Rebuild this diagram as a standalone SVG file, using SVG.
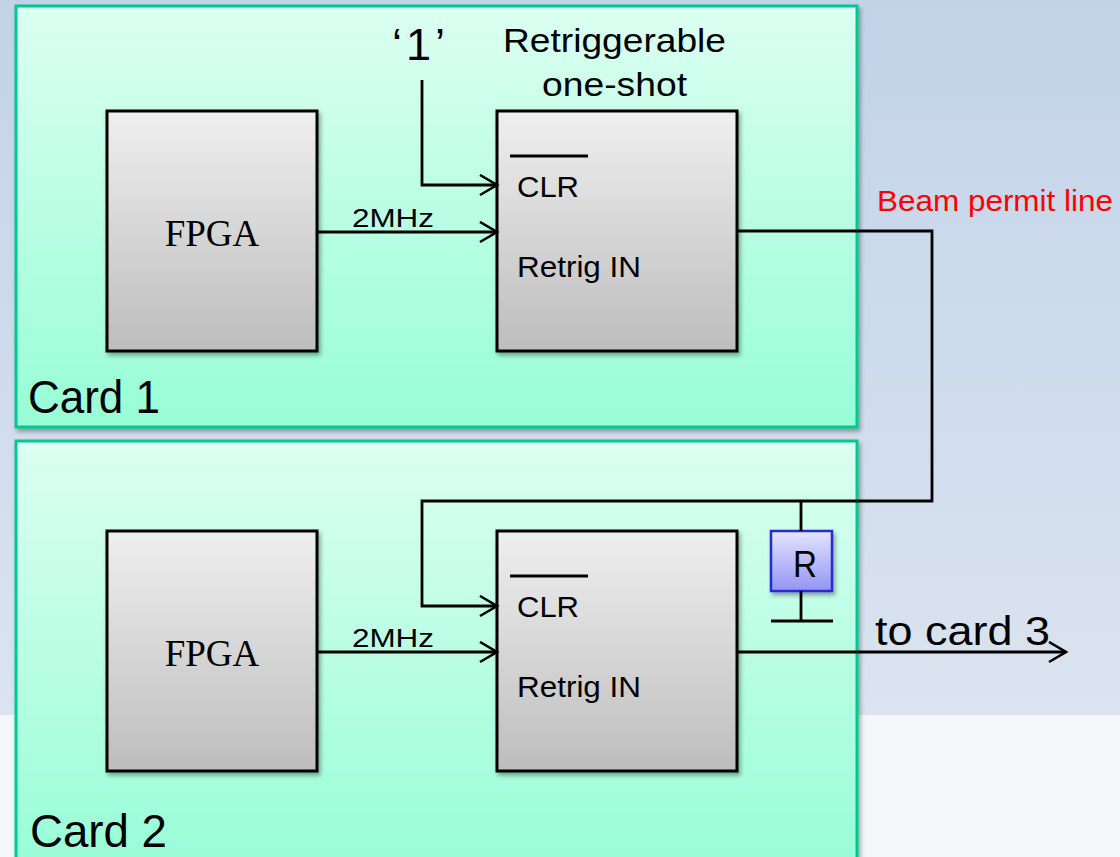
<svg xmlns="http://www.w3.org/2000/svg" width="1120" height="857" viewBox="0 0 1120 857">
<defs>
<linearGradient id="bg" x1="0" y1="0" x2="0" y2="1">
<stop offset="0" stop-color="#c2d3e8"/>
<stop offset="1" stop-color="#dbe4f0"/>
</linearGradient>
<linearGradient id="card" x1="0" y1="0" x2="0" y2="1">
<stop offset="0" stop-color="#dcfff1"/>
<stop offset="1" stop-color="#97fdd7"/>
</linearGradient>
<linearGradient id="box" x1="0" y1="0" x2="0" y2="1">
<stop offset="0" stop-color="#efefef"/>
<stop offset="1" stop-color="#bdbdbd"/>
</linearGradient>
<linearGradient id="rbox" x1="0" y1="0" x2="0" y2="1">
<stop offset="0" stop-color="#e4e4ff"/>
<stop offset="1" stop-color="#9494f4"/>
</linearGradient>
<filter id="sh" x="-10%" y="-10%" width="130%" height="130%">
<feDropShadow dx="2" dy="3" stdDeviation="2" flood-color="#000" flood-opacity="0.35"/>
</filter>
<marker id="arr" markerWidth="22" markerHeight="24" refX="18" refY="11" orient="auto" markerUnits="userSpaceOnUse">
<path d="M1,1 L18,11 L1,21" fill="none" stroke="#000" stroke-width="2.6"/>
</marker>
</defs>
<style>
.card{fill:url(#card);stroke:#00c88e;stroke-width:3;filter:url(#sh)}
.box{fill:url(#box);stroke:#000;stroke-width:3;filter:url(#sh)}
.w{fill:none;stroke:#000;stroke-width:2.8}
.t{font-family:"Liberation Sans",Arial,sans-serif;fill:#000}
.s{font-family:"Liberation Serif","Times New Roman",serif;fill:#000}
</style>
<rect x="0" y="0" width="1120" height="715" fill="url(#bg)"/>
<rect x="0" y="715" width="1120" height="142" fill="#f4f6f9"/>
<g id="card1">
<rect class="card" x="16" y="6" width="841" height="421"/>
<text class="t" x="28" y="413" font-size="46" textLength="132" lengthAdjust="spacingAndGlyphs">Card 1</text>
</g>
<g id="card2">
<rect class="card" x="16" y="441" width="841" height="430"/>
<text class="t" x="30" y="847" font-size="46" textLength="137" lengthAdjust="spacingAndGlyphs">Card 2</text>
</g>
<g id="fpga1">
<rect class="box" x="107" y="111" width="210" height="240"/>
<text class="s" x="212" y="246" font-size="37" text-anchor="middle">FPGA</text>
</g>
<g id="oneshot1">
<rect class="box" x="497" y="111" width="240" height="240"/>
<line x1="510" y1="156" x2="588" y2="156" stroke="#000" stroke-width="2.8"/>
<text class="t" x="517" y="197" font-size="30" textLength="62" lengthAdjust="spacingAndGlyphs">CLR</text>
<text class="t" x="517" y="277" font-size="30" textLength="124" lengthAdjust="spacingAndGlyphs">Retrig IN</text>
</g>
<g id="fpga2">
<rect class="box" x="107" y="531" width="210" height="240"/>
<text class="s" x="212" y="666" font-size="37" text-anchor="middle">FPGA</text>
</g>
<g id="oneshot2">
<rect class="box" x="497" y="531" width="240" height="240"/>
<line x1="510" y1="576" x2="588" y2="576" stroke="#000" stroke-width="2.8"/>
<text class="t" x="517" y="617" font-size="30" textLength="62" lengthAdjust="spacingAndGlyphs">CLR</text>
<text class="t" x="517" y="697" font-size="30" textLength="124" lengthAdjust="spacingAndGlyphs">Retrig IN</text>
</g>
<g id="resistor">
<rect x="771" y="531" width="61" height="60" fill="url(#rbox)" stroke="#2b2bd0" stroke-width="2.5" filter="url(#sh)"/>
<text class="t" x="805" y="577" font-size="36" text-anchor="middle" textLength="24" lengthAdjust="spacingAndGlyphs">R</text>
</g>
<g id="labels">
<text class="t" x="392" y="60" font-size="45" textLength="53" lengthAdjust="spacing">‘1’</text>
<text class="t" x="503" y="52" font-size="33" textLength="223" lengthAdjust="spacingAndGlyphs">Retriggerable</text>
<text class="t" x="542" y="96" font-size="33" textLength="145" lengthAdjust="spacingAndGlyphs">one-shot</text>
<text class="t" x="877" y="211" font-size="29" textLength="236" lengthAdjust="spacingAndGlyphs" style="fill:#ff0000">Beam permit line</text>
<text class="t" x="352" y="227" font-size="26" textLength="82" lengthAdjust="spacingAndGlyphs">2MHz</text>
<text class="t" x="352" y="647" font-size="26" textLength="82" lengthAdjust="spacingAndGlyphs">2MHz</text>
<text class="t" x="875" y="645" font-size="40" textLength="175" lengthAdjust="spacingAndGlyphs">to card 3</text>
</g>
<g id="connectors">
<polyline class="w" points="422,80 422,185 497,185" marker-end="url(#arr)"/>
<line class="w" x1="317" y1="232" x2="497" y2="232" marker-end="url(#arr)"/>
<polyline class="w" points="737,231 932,231 932,501 422,501 422,606 497,606" marker-end="url(#arr)"/>
<line class="w" x1="317" y1="652" x2="497" y2="652" marker-end="url(#arr)"/>
<line class="w" x1="801" y1="501" x2="801" y2="531"/>
<line class="w" x1="801" y1="591" x2="801" y2="621"/>
<line class="w" x1="771" y1="621" x2="833" y2="621"/>
<line class="w" x1="737" y1="652" x2="1066" y2="652" marker-end="url(#arr)"/>
</g>
</svg>
